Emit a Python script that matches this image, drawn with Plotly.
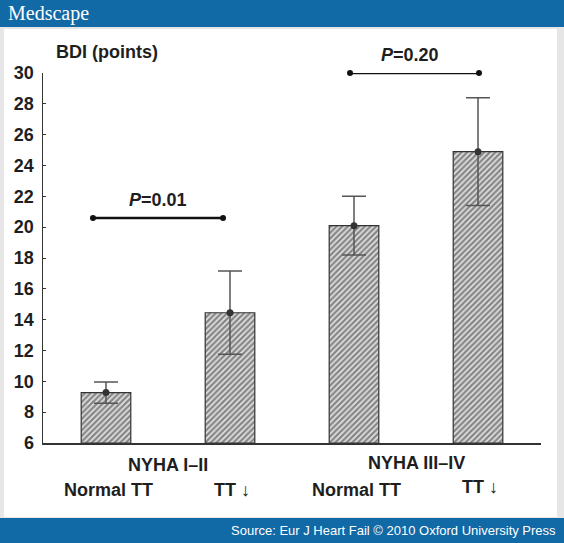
import plotly.graph_objects as go

# ---- data ----
groups = ["NYHA I–II", "NYHA III–IV"]
subgroups = ["Normal TT", "TT ↓", "Normal TT", "TT ↓"]
bdi_mean = [9.27, 14.45, 20.1, 24.9]
bdi_err = [0.69, 2.7, 1.9, 3.5]
p_labels = ["P=0.01", "P=0.20"]
p_y = [20.6, 30.0]
y_ticks = [6, 8, 10, 12, 14, 16, 18, 20, 22, 24, 26, 28, 30]

W, H = 564, 543
L, R, T, B = 43, 23, 73, 100
PW, PH = W - L - R, H - T - B

def xp(px):
    return (px - L) / PW

def yp(py):
    return (H - B - py) / PH

xpos = list(range(len(bdi_mean)))
FONT = "Arial, Liberation Sans, sans-serif"
BOLD = dict(family=FONT, size=18, color="#1e1e1e", weight="bold")

fig = go.Figure()
fig.add_trace(go.Bar(
    x=xpos, y=[v - 6 for v in bdi_mean], base=6, width=0.4,
    marker=dict(color="#e0e0e0", line=dict(color="#333333", width=1.2),
                pattern=dict(shape="/", fgcolor="#2a2a2a", bgcolor="#e4e4e4",
                             size=4, solidity=0.6)),
    showlegend=False, hoverinfo="skip"))
fig.add_trace(go.Scatter(
    x=xpos, y=bdi_mean, mode="markers",
    marker=dict(color="#333333", size=7),
    error_y=dict(type="data", array=bdi_err, color="#555555", thickness=1.5, width=12),
    showlegend=False, hoverinfo="skip"))

# significance brackets
brackets = [(-0.105, 0.944), (1.968, 3.008)]
for (a, b), yv, lab in zip(brackets, p_y, p_labels):
    fig.add_trace(go.Scatter(x=[a, b], y=[yv, yv], mode="lines+markers",
                             line=dict(color="#111", width=2.5),
                             marker=dict(color="#111", size=6),
                             showlegend=False, hoverinfo="skip", cliponaxis=False))
    p, rest = lab.split("=")
    fig.add_annotation(x=(a + b) / 2 - (0.04 if yv > 25 else 0), y=yv, yshift=18,
                       text=f"<i>{p}</i>={rest}", showarrow=False,
                       font=BOLD, xanchor="center", yanchor="middle")

# category labels
for i, g in enumerate(groups):
    fig.add_annotation(x=2 * i + 0.5, y=yp(465 - 2 * i), xref="x", yref="paper",
                       text=g, showarrow=False, font=BOLD, yanchor="middle")
for i, s in enumerate(subgroups):
    yy = 490 if i < 3 else 487
    fig.add_annotation(x=i + 0.02, y=yp(yy), xref="x", yref="paper",
                       text=s, showarrow=False, font=BOLD, yanchor="middle")

fig.add_annotation(x=xp(54), y=yp(52), xref="paper", yref="paper",
                   text="BDI (points)", showarrow=False, font=BOLD,
                   xanchor="left", yanchor="middle")

# frame / banners
shapes = [
    dict(type="rect", xref="paper", yref="paper", x0=xp(4), x1=xp(557), y0=yp(517), y1=yp(29),
         fillcolor="white", line=dict(width=0), layer="below"),
    dict(type="rect", xref="paper", yref="paper", x0=xp(0), x1=xp(564), y0=yp(27), y1=yp(0),
         fillcolor="#1169a6", line=dict(width=0), layer="below"),
    dict(type="rect", xref="paper", yref="paper", x0=xp(0), x1=xp(564), y0=yp(543), y1=yp(518),
         fillcolor="#1169a6", line=dict(width=0), layer="below"),
]
fig.add_annotation(x=xp(6), y=yp(13), xref="paper", yref="paper", text="Medscape",
                   showarrow=False, xanchor="left", yanchor="middle",
                   font=dict(family="Liberation Serif, DejaVu Serif, serif", size=20, color="white"))
fig.add_annotation(x=xp(558), y=yp(530), xref="paper", yref="paper",
                   text="Source: Eur J Heart Fail © 2010 Oxford University Press",
                   showarrow=False, xanchor="right", yanchor="middle",
                   font=dict(family=FONT, size=13, color="white"))

fig.update_layout(
    width=W, height=H, margin=dict(l=L, r=R, t=T, b=B, autoexpand=False),
    paper_bgcolor="#e6e6e6", plot_bgcolor="white", shapes=shapes,
    bargap=0,
    xaxis=dict(range=[-0.508, 3.508], showticklabels=False, ticks="", showgrid=False,
               zeroline=False, showline=True, linecolor="#333", linewidth=1.5, fixedrange=True),
    yaxis=dict(range=[6, 30], tickvals=y_ticks, ticks="inside", ticklen=3, tickcolor="#333",
               showgrid=False, zeroline=False, showline=True, linecolor="#333", linewidth=1.5,
               tickfont=BOLD, ticklabelstandoff=4, fixedrange=True),
)
fig.write_html("out.html", config={"displayModeBar": False, "staticPlot": True},
               post_script="document.body.style.margin='0';document.body.style.overflow='hidden';")
